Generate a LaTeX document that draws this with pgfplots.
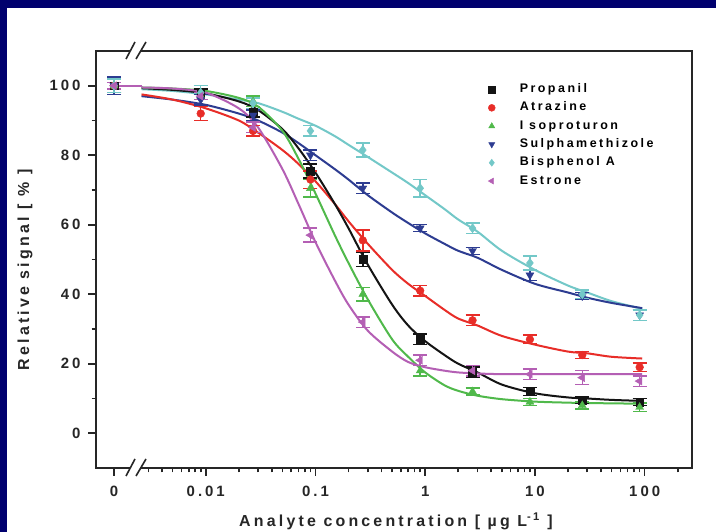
\documentclass[border=0pt]{standalone}
\usepackage{pgfplots}
\pgfplotsset{compat=1.18}
\usepackage{fontspec}
\setmainfont{Liberation Sans}[LetterSpace=20]

\definecolor{navybg}{RGB}{0,0,110}
\definecolor{cPro}{RGB}{20,20,20}
\definecolor{cAtr}{RGB}{232,45,40}
\definecolor{cIso}{RGB}{80,185,75}
\definecolor{cSul}{RGB}{45,60,145}
\definecolor{cBis}{RGB}{115,200,200}
\definecolor{cEst}{RGB}{180,95,180}

\pgfplotsset{
  fit/.style={color=#1, line width=2bp, smooth, tension=0.5, no marks, forget plot},
  pts/.style={color=#1, only marks, mark size=3.9bp,
    error bars/y dir=both, error bars/y explicit,
    error bars/error bar style={line width=1.5bp, solid},
    error bars/error mark options={line width=1.5bp, mark size=7bp, rotate=90}},
}

\begin{document}
\begin{tikzpicture}[x=1bp,y=1bp]
\fill[white] (0,0) rectangle (716,532);
\fill[navybg] (0,524) rectangle (716,532);
\fill[navybg] (0,0) rectangle (7,532);
\path[use as bounding box] (0,0) rectangle (716,532);

\begin{axis}[
  at={(96bp,64bp)}, anchor=south west,
  scale only axis, width=596bp, height=417bp,
  xmode=log, xmin=0.001, xmax=270, ymin=-10, ymax=110,
  xtick={0.00146,0.01,0.1,1,10,100},
  xticklabels={0,0.01,0.1,1,10,100},
  minor xtick={0.003,0.004,0.005,0.006,0.007,0.008,0.009,
    0.02,0.03,0.04,0.05,0.06,0.07,0.08,0.09,
    0.2,0.3,0.4,0.5,0.6,0.7,0.8,0.9,
    2,3,4,5,6,7,8,9,20,30,40,50,60,70,80,90,200},
  ytick={0,20,40,60,80,100},
  minor ytick={10,30,50,70,90},
  xtick pos=bottom, ytick pos=left, tick align=outside,
  major tick length=8bp, minor tick length=4.5bp,
  every tick/.style={line width=1.6bp, black!85},
  axis line style={line width=2bp, black!85},
  /pgf/number format/assume math mode=true,
  ticklabel style={font=\bfseries\fontsize{15}{15}\selectfont, black!85},
  xticklabel style={yshift=-7bp},
  yticklabel style={xshift=-4bp},
  legend style={at={(rel axis cs:0.652,0.932)}, anchor=north west,
    draw=none, fill=none, row sep=2.3bp,
    font=\bfseries\fontsize{12.5}{14}\selectfont,
    nodes={text height=9bp, text depth=3bp, inner ysep=2bp}},
  legend cell align=left,
  legend image code/.code={
    \path[draw=none] (-4bp,0) -- (26bp,0);
    \path[draw=none] plot[mark size=3.5bp] coordinates {(0,0)};},
  clip=false,
]
% fitted curves
\addplot[fit=cBis] coordinates {(0.0026,99)(0.005,98.5)(0.01,97.5)(0.02,96)(0.03,95)(0.05,92.5)(0.07,90.5)(0.1,88.5)(0.15,85.5)(0.2,83)(0.3,79.5)(0.5,75)(0.7,72)(1,68.5)(1.5,64.5)(2,61.5)(3,58)(5,52.5)(10,47)(20,42.5)(30,40.5)(50,38)(95,35.8)};
\addplot[fit=cSul] coordinates {(0.0026,97)(0.005,96)(0.01,94.5)(0.02,92)(0.03,90)(0.05,86.5)(0.07,83.5)(0.1,80)(0.15,76)(0.2,73)(0.3,68.5)(0.5,63.5)(0.7,60.5)(1,57.5)(1.5,54.5)(2,52.5)(3,50.5)(5,47)(10,43)(20,40.5)(30,39)(50,37.5)(95,36)};
\addplot[fit=cAtr] coordinates {(0.0026,97.5)(0.005,96)(0.01,93.5)(0.02,90)(0.03,86.5)(0.05,81.5)(0.07,77.5)(0.1,72.5)(0.15,66)(0.2,61)(0.3,54.5)(0.5,47)(0.7,43)(1,39.5)(1.5,35.5)(2,33)(3,31)(5,28)(10,25.5)(20,23.5)(30,23)(50,22)(95,21.5)};
\addplot[fit=cPro] coordinates {(0.0026,99.3)(0.005,98.8)(0.01,97.8)(0.02,95.5)(0.03,93)(0.05,87.5)(0.07,82)(0.1,75)(0.15,66)(0.2,59)(0.3,48.5)(0.5,37)(0.7,31)(1,26.5)(1.5,22.5)(2,20)(3,17.5)(5,14)(10,11.5)(20,10.3)(30,10)(50,9.6)(95,9.3)};
\addplot[fit=cIso] coordinates {(0.0026,99.5)(0.005,99.2)(0.01,98.5)(0.02,96.5)(0.03,94)(0.05,87)(0.07,79)(0.1,69)(0.15,57)(0.2,49)(0.3,38.5)(0.5,27)(0.7,22)(1,17.5)(1.5,13.8)(2,12.2)(3,10.8)(5,9.8)(10,9.1)(20,8.8)(30,8.7)(50,8.6)(95,8.5)};
\addplot[fit=cEst] coordinates {(0.0026,99.5)(0.005,99.2)(0.01,98)(0.02,93.5)(0.03,88)(0.05,76)(0.07,66)(0.1,55)(0.15,44)(0.2,37)(0.3,29.5)(0.5,23.5)(0.7,20.5)(1,19)(1.5,18)(2,17.5)(3,17.2)(5,17)(10,17)(30,17)(95,17)};
\addplot[color=cEst, line width=2bp, forget plot] coordinates {(0.00146,100)(0.0026,100)};

% measured points
\addplot[pts=cPro, mark=square*] coordinates {
  (0.00146,100) +- (0,2) (0.009,97.5) +- (0,1.5) (0.027,92.5) +- (0,1.5)
  (0.09,75.5) +- (0,2) (0.27,50) +- (0,2) (0.9,27) +- (0,1.5)
  (2.7,17.5) +- (0,1.5) (9,12) +- (0,1.2) (27,9.5) +- (0,1) (90,9) +- (0,1)};
\addplot[pts=cAtr, mark=*] coordinates {
  (0.00146,100) +- (0,2) (0.009,92) +- (0,2) (0.027,87) +- (0,1.5)
  (0.09,73) +- (0,2.5) (0.27,55.5) +- (0,3) (0.9,41) +- (0,1.5)
  (2.7,32.5) +- (0,1.5) (9,27) +- (0,1.2) (27,22.5) +- (0,1) (90,19) +- (0,1.2)};
\addplot[pts=cIso, mark=triangle*, mark size=4.6bp] coordinates {
  (0.00146,100) +- (0,2) (0.009,97) +- (0,1) (0.027,95.5) +- (0,1.5)
  (0.09,70.5) +- (0,2.5) (0.27,40) +- (0,2) (0.9,18) +- (0,1.5)
  (2.7,12) +- (0,1) (9,9) +- (0,1) (27,8) +- (0,1) (90,7.5) +- (0,1.2)};
\addplot[pts=cSul, mark=triangle*, mark size=4.6bp, mark options={rotate=180}] coordinates {
  (0.00146,100) +- (0,2.5) (0.009,96) +- (0,1.5) (0.027,91.5) +- (0,1.5)
  (0.09,80) +- (0,1.5) (0.27,70.5) +- (0,1.5) (0.9,59) +- (0,1)
  (2.7,52.5) +- (0,1) (9,45.5) +- (0,1.5) (27,39.5) +- (0,1) (90,34) +- (0,1.5)};
\addplot[pts=cBis, mark=diamond*, mark size=4.6bp] coordinates {
  (0.00146,100) +- (0,2) (0.009,98) +- (0,2) (0.027,95) +- (0,1.5)
  (0.09,87) +- (0,1.5) (0.27,81.5) +- (0,2) (0.9,70.5) +- (0,2.5)
  (2.7,59) +- (0,1.5) (9,49) +- (0,2) (27,40) +- (0,1.2) (90,34) +- (0,1.5)};
\addplot[pts=cEst, mark=triangle*, mark size=4.6bp, mark options={rotate=90}] coordinates {
  (0.00146,100) +- (0,1) (0.009,97) +- (0,1) (0.027,88) +- (0,1.5)
  (0.09,57) +- (0,2) (0.27,32) +- (0,1.5) (0.9,21) +- (0,1.5)
  (2.7,18) +- (0,1.5) (9,17) +- (0,1.5) (27,16) +- (0,2) (90,15) +- (0,1.5)};
\legend{Propanil,Atrazine,I soproturon,Sulphamethizole,Bisphenol A,Estrone}
\end{axis}

% axis breaks
\foreach \yy in {64,481}{
  \fill[white] (130,\yy-3) rectangle (141,\yy+3);
  \draw[line width=1.6bp, black!85] (126,\yy-8) -- (135,\yy+9);
  \draw[line width=1.6bp, black!85] (136,\yy-8) -- (146,\yy+9);
}

\node[rotate=90, font=\bfseries\fontsize{16}{16}\selectfont, black!85] at (25,262) {Relative signal [ \% ]};
\node[anchor=base, font=\bfseries\fontsize{16}{16}\selectfont, black!85] at (396,5) {Analyte concentration [ µg L\textsuperscript{-1} ]};
\end{tikzpicture}
\end{document}
